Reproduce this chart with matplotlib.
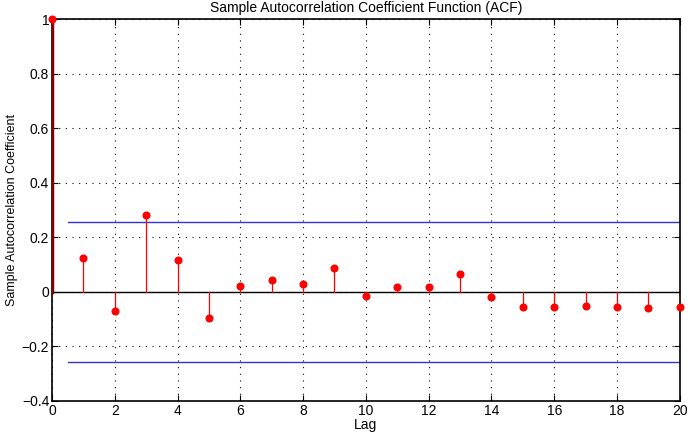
import matplotlib
matplotlib.use('Agg')
import matplotlib.pyplot as plt
import numpy as np

plt.rcParams['font.family'] = ['Liberation Sans', 'DejaVu Sans']

# Sample ACF values, lags 0..20
lags = np.arange(0, 21)
acf = [1.0, 0.124, -0.069, 0.282, 0.118, -0.095, 0.023, 0.043, 0.027, 0.089,
       -0.017, 0.016, 0.018, 0.067, -0.018, -0.057, -0.057, -0.051, -0.055,
       -0.059, -0.054]
bound = 0.2575
bound_start = 0.5

fig = plt.figure(figsize=(6.88, 4.38), dpi=100)
ax = fig.add_axes([0.0756, 0.0845, 0.9124, 0.8721])

# stems
for lag, val in zip(lags, acf):
    if lag == 0:
        ax.plot([lag, lag], [0, val], color='#8b0000', linewidth=2.5, zorder=3)
    else:
        ax.plot([lag, lag], [0, val], color='red', linewidth=0.9, zorder=3)
ax.plot(lags, acf, 'o', color='red', markersize=4.8, zorder=4, clip_on=False)

# baseline and confidence bounds
ax.axhline(0, color='black', linewidth=1.0, zorder=2)
ax.plot([bound_start, 20], [bound, bound], color='#3333cc', linewidth=1.0, zorder=2)
ax.plot([bound_start, 20], [-bound, -bound], color='#3333cc', linewidth=1.0, zorder=2)

ax.set_xlim(0, 20)
ax.set_ylim(-0.4, 1)
ax.set_xticks(np.arange(0, 21, 2))
ax.set_yticks(np.arange(-0.4, 1.01, 0.2))
ax.set_yticklabels(['\u22120.4', '\u22120.2', '0', '0.2', '0.4', '0.6', '0.8', '1'])
ax.grid(True, linestyle=(0, (1, 5)), color='black', linewidth=0.8)
ax.tick_params(direction='in', top=True, right=True, labelsize=10, length=4, pad=2)
for s in ax.spines.values():
    s.set_linewidth(1.2)

ax.set_xlabel('Lag', fontsize=10, labelpad=0)
ax.set_ylabel('Sample Autocorrelation Coefficient', fontsize=9, labelpad=3)
ax.set_title('Sample Autocorrelation Coefficient Function (ACF)', fontsize=10, pad=5)

fig.savefig('out.png', dpi=100)
